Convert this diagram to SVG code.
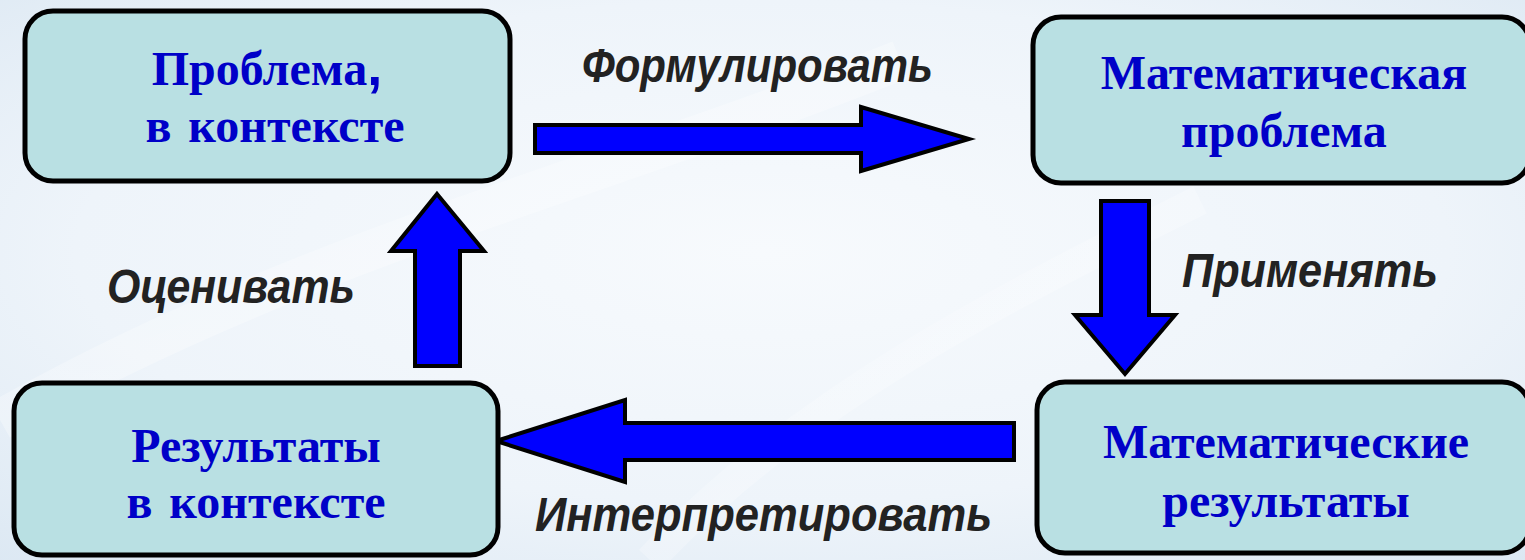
<svg xmlns="http://www.w3.org/2000/svg" width="1525" height="560" viewBox="0 0 1525 560">
  <defs>
    <radialGradient id="bg" cx="0.5" cy="0.45" r="0.75">
      <stop offset="0" stop-color="#f7fafd"/>
      <stop offset="0.6" stop-color="#eef4fa"/>
      <stop offset="1" stop-color="#dce8f3"/>
    </radialGradient>
    <linearGradient id="streak" x1="0" y1="0" x2="1" y2="1">
      <stop offset="0" stop-color="#ffffff" stop-opacity="0"/>
      <stop offset="0.5" stop-color="#ffffff" stop-opacity="0.6"/>
      <stop offset="1" stop-color="#ffffff" stop-opacity="0"/>
    </linearGradient>
    <style>
      .node { fill: #b9e0e3; stroke: #000000; stroke-width: 5; }
      .ntext { font-family: "Liberation Serif", "Times New Roman", serif; font-weight: bold; font-size: 48px; fill: #0000c8; text-anchor: middle; }
      .ws { word-spacing: 5px; }
      .comma { font-family: "Liberation Sans", Arial, sans-serif; font-weight: bold; font-size: 54px; }
      .arrow { fill: #0000ff; stroke: #000000; stroke-width: 4; stroke-linejoin: miter; }
      .label { font-family: "Liberation Sans", Arial, sans-serif; font-weight: bold; font-style: italic; font-size: 48px; fill: #222222; }
    </style>
  </defs>

  <rect x="0" y="0" width="1525" height="560" fill="url(#bg)"/>
  <path d="M0,420 C300,250 600,180 900,60" stroke="url(#streak)" stroke-width="40" fill="none" opacity="0.5"/>
  <path d="M650,560 C800,400 1000,300 1200,200" stroke="url(#streak)" stroke-width="30" fill="none" opacity="0.4"/>

  <g id="connectors">
    <g id="edge-formulate">
      <polygon class="arrow" points="535,125 861,125 861,107 969,139 861,171 861,153 535,153"/>
      <text class="label" x="582" y="82" textLength="351" lengthAdjust="spacingAndGlyphs">Формулировать</text>
    </g>
    <g id="edge-apply">
      <polygon class="arrow" points="1101,201 1149,201 1149,315 1175,315 1125,374 1075,315 1101,315"/>
      <text class="label" x="1182" y="287" textLength="256" lengthAdjust="spacingAndGlyphs">Применять</text>
    </g>
    <g id="edge-interpret">
      <polygon class="arrow" points="496,441 625,400 625,423 1014,423 1014,460 625,460 625,482"/>
      <text class="label" x="535" y="531" textLength="457" lengthAdjust="spacingAndGlyphs">Интерпретировать</text>
    </g>
    <g id="edge-evaluate">
      <polygon class="arrow" points="437,194 484,251 460,251 460,366 415,366 415,251 391,251"/>
      <text class="label" x="107" y="303" textLength="248" lengthAdjust="spacingAndGlyphs">Оценивать</text>
    </g>
  </g>

  <g id="node-problem-context">
    <rect class="node" x="25" y="11" width="485" height="170" rx="28" ry="28"/>
    <text class="ntext" x="267" y="85">Проблема<tspan class="comma">,</tspan></text>
    <text class="ntext ws" x="275" y="142">в контексте</text>
  </g>

  <g id="node-math-problem">
    <rect class="node" x="1033" y="17" width="497" height="166" rx="28" ry="28"/>
    <text class="ntext" x="1284" y="89">Математическая</text>
    <text class="ntext" x="1284" y="147">проблема</text>
  </g>

  <g id="node-math-results">
    <rect class="node" x="1037" y="382" width="493" height="171" rx="28" ry="28"/>
    <text class="ntext" x="1286" y="458">Математические</text>
    <text class="ntext" x="1286" y="517">результаты</text>
  </g>

  <g id="node-results-context">
    <rect class="node" x="14" y="383" width="484" height="172" rx="28" ry="28"/>
    <text class="ntext" x="256" y="462">Результаты</text>
    <text class="ntext ws" x="256" y="518">в контексте</text>
  </g>
</svg>
